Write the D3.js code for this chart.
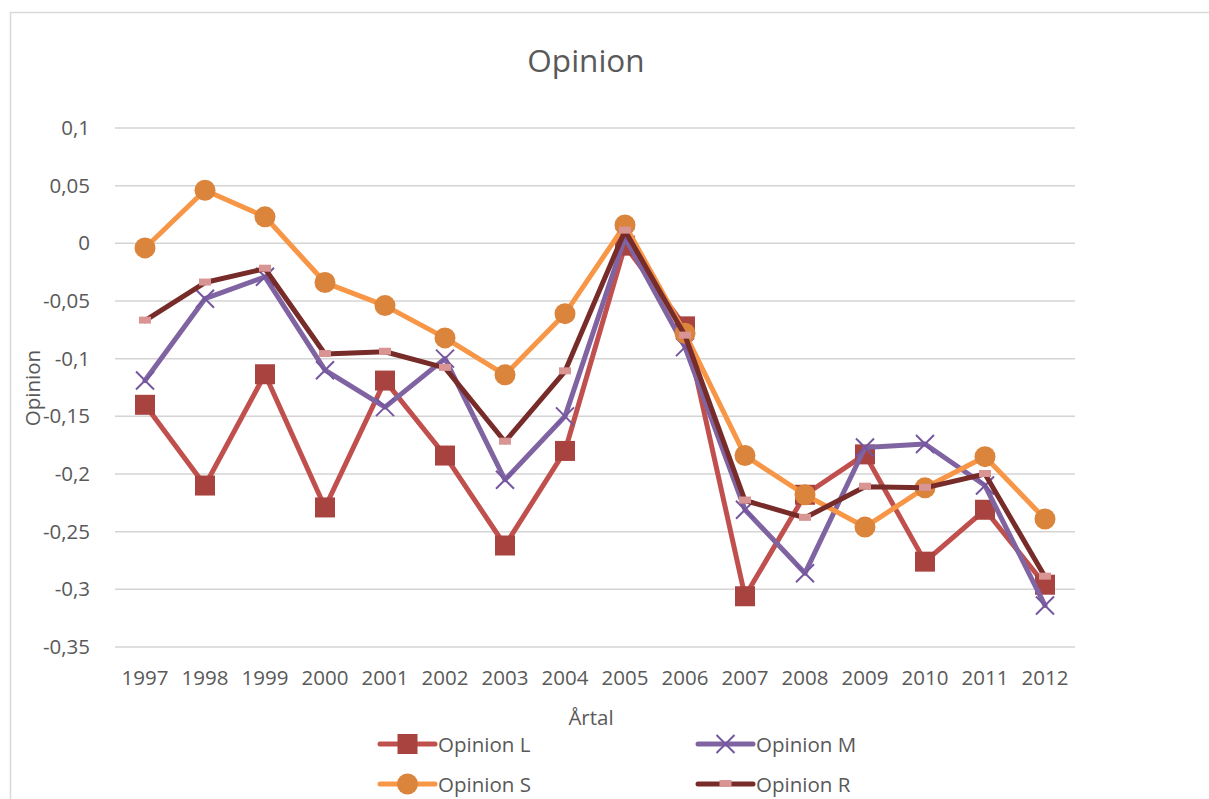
<!DOCTYPE html>
<html>
<head>
<meta charset="utf-8">
<script src="https://cdn.jsdelivr.net/npm/d3@7"></script>
<style>
  body { margin: 0; background: #fff; }
  text { font-family: "Open Sans", sans-serif; fill: #595959; }
</style>
</head>
<body>
<div id="chart"></div>
<script>
const years = ['1997','1998','1999','2000','2001','2002','2003','2004','2005','2006','2007','2008','2009','2010','2011','2012']
const opinionL = [-0.140,-0.210,-0.1135,-0.229,-0.119,-0.184,-0.262,-0.180,-0.002,-0.072,-0.306,-0.218,-0.183,-0.276,-0.231,-0.296]
const opinionM = [-0.119,-0.048,-0.029,-0.110,-0.142,-0.100,-0.205,-0.150,0.005,-0.090,-0.231,-0.286,-0.177,-0.174,-0.210,-0.314]
const opinionS = [-0.004,0.046,0.023,-0.034,-0.054,-0.082,-0.114,-0.061,0.016,-0.078,-0.184,-0.218,-0.246,-0.212,-0.185,-0.239]
const opinionR = [-0.067,-0.034,-0.022,-0.096,-0.094,-0.108,-0.172,-0.111,0.011,-0.080,-0.223,-0.238,-0.211,-0.212,-0.200,-0.289]
const yTicks = [0.1,0.05,0,-0.05,-0.1,-0.15,-0.2,-0.25,-0.3,-0.35]

const series = [
  { name: 'Opinion L', values: opinionL, line: '#C0504D', marker: 'square', fill: '#A9433F' },
  { name: 'Opinion M', values: opinionM, line: '#8064A2', marker: 'x', fill: '#7557A0' },
  { name: 'Opinion S', values: opinionS, line: '#F79646', marker: 'circle', fill: '#DB843C' },
  { name: 'Opinion R', values: opinionR, line: '#772C2A', marker: 'dash', fill: '#D99594' }
]

const width = 1209, height = 799
const plot = { left: 115, right: 1075, top: 128, bottom: 647 }

const svg = d3.select('#chart').append('svg')
  .attr('width', width)
  .attr('height', height)

// chart frame
svg.append('rect')
  .attr('x', 10.5).attr('y', 12.5)
  .attr('width', 1240).attr('height', 820)
  .attr('fill', 'none').attr('stroke', '#D9D9D9').attr('stroke-width', 1.5)

const x = d3.scaleBand().domain(years).range([plot.left, plot.right])
const y = d3.scaleLinear().domain([-0.35, 0.1]).range([plot.bottom, plot.top])
const cx = (d) => x(d) + x.bandwidth() / 2
const fmt = (v) => d3.format('~g')(v).replace('.', ',').replace('−', '-')

// gridlines
svg.append('g').selectAll('line').data(yTicks).enter().append('line')
  .attr('x1', plot.left).attr('x2', plot.right)
  .attr('y1', (d) => y(d)).attr('y2', (d) => y(d))
  .attr('stroke', '#D4D4D4').attr('stroke-width', 1.5)

// y axis labels
const yAxis = svg.append('g')
  .attr('transform', `translate(${plot.left},0)`)
  .call(d3.axisLeft(y).tickValues(yTicks).tickSize(0).tickPadding(25).tickFormat(fmt))
yAxis.select('.domain').remove()
yAxis.selectAll('text').style('font-size', '20.5px').attr('fill', '#595959')

// x axis labels
const xAxis = svg.append('g')
  .attr('transform', `translate(0,${plot.bottom})`)
  .call(d3.axisBottom(x).tickSize(0).tickPadding(23))
xAxis.select('.domain').remove()
xAxis.selectAll('text').style('font-size', '20.5px').attr('fill', '#595959')

// titles
svg.append('text').attr('x', 586).attr('y', 72).attr('text-anchor', 'middle')
  .style('font-size', '31.5px').text('Opinion')
svg.append('text').attr('x', 591).attr('y', 725).attr('text-anchor', 'middle')
  .style('font-size', '20.5px').text('Årtal')
svg.append('text').attr('transform', 'translate(40,388) rotate(-90)').attr('text-anchor', 'middle')
  .style('font-size', '20.5px').text('Opinion')

const line = d3.line().x((d, i) => cx(years[i])).y((d) => y(d))

function drawMarker(g, s, px, py) {
  if (s.marker === 'square') {
    g.append('rect').attr('x', px - 10).attr('y', py - 10).attr('width', 20).attr('height', 20)
      .attr('fill', s.fill)
  } else if (s.marker === 'circle') {
    g.append('circle').attr('cx', px).attr('cy', py).attr('r', 10.5).attr('fill', s.fill)
  } else if (s.marker === 'x') {
    g.append('path').attr('d', `M${px - 9},${py - 9}L${px + 9},${py + 9}M${px - 9},${py + 9}L${px + 9},${py - 9}`)
      .attr('stroke', s.fill).attr('stroke-width', 2).attr('fill', 'none')
  } else {
    g.append('rect').attr('x', px - 6).attr('y', py - 4).attr('width', 12).attr('height', 7)
      .attr('fill', s.fill)
  }
}

series.forEach((s) => {
  const g = svg.append('g')
  g.append('path').datum(s.values)
    .attr('d', line)
    .attr('fill', 'none')
    .attr('stroke', s.line)
    .attr('stroke-width', 5)
    .attr('stroke-linejoin', 'round')
    .attr('stroke-linecap', 'round')
  s.values.forEach((v, i) => drawMarker(g, s, cx(years[i]), y(v)))
})

// legend
const legendPos = [[380, 744], [698, 744], [380, 784], [698, 784]]
series.forEach((s, i) => {
  const [lx, ly] = legendPos[i]
  const g = svg.append('g')
  g.append('line').attr('x1', lx).attr('x2', lx + 55).attr('y1', ly).attr('y2', ly)
    .attr('stroke', s.line).attr('stroke-width', 5).attr('stroke-linecap', 'round')
  drawMarker(g, s, lx + 27.5, ly)
  g.append('text').attr('x', lx + 58).attr('y', ly + 7.5).style('font-size', '20.5px').text(s.name)
})
</script>
</body>
</html>
